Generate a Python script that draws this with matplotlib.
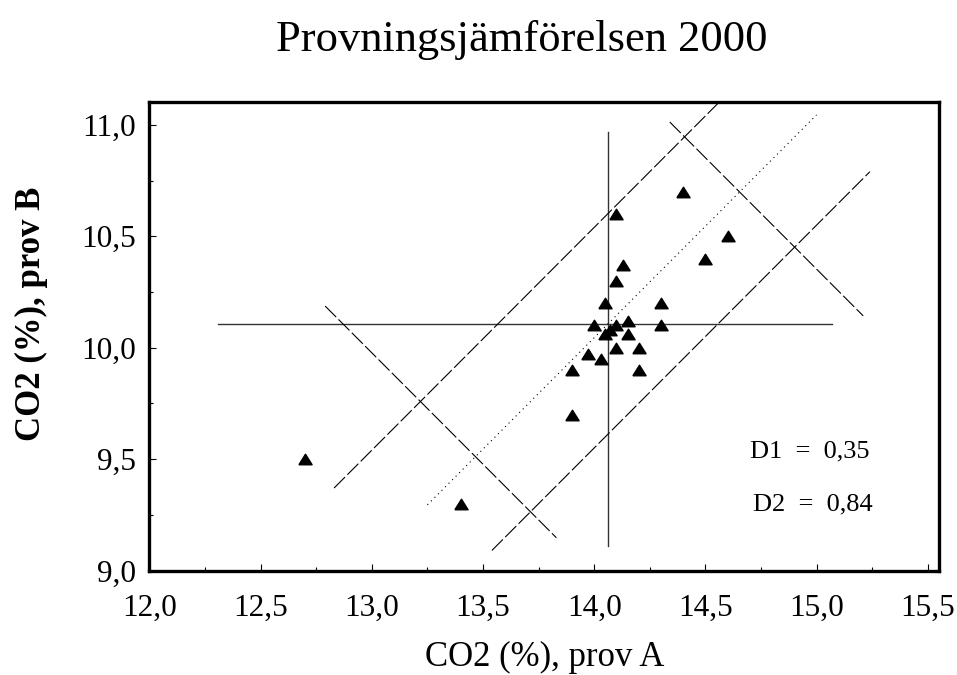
import numpy as np
import matplotlib.pyplot as plt
from matplotlib.ticker import MultipleLocator, FuncFormatter

# --- DATA: CO2 (%) per laboratory, sample A and sample B ---
prov_a = [14.40, 14.10, 14.60, 14.50, 14.13, 14.10, 14.05, 14.30, 14.15, 14.00,
          14.10, 14.30, 14.07, 14.05, 14.15, 14.10, 14.20, 13.97, 14.03, 13.90,
          14.20, 13.90, 13.40, 12.70]
prov_b = [10.70, 10.60, 10.50, 10.40, 10.37, 10.30, 10.20, 10.20, 10.12, 10.10,
          10.10, 10.10, 10.08, 10.06, 10.06, 10.00, 10.00, 9.97, 9.95, 9.90,
          9.90, 9.70, 9.30, 9.50]

# centre of the Youden cross
center_a = 14.06
center_b = 10.105

# distances printed in the plot
D1 = 0.35
D2 = 0.84

# extents of the reference lines (sample A range, or sample B range for the vertical line)
hline_range = [12.31, 15.07]
vline_range = [9.11, 10.97]
diag_range = [13.25, 15.00]
upper_band_range = [12.83, 14.65]
lower_band_range = [13.54, 15.24]
perp_low_range = [12.79, 13.83]
perp_high_range = [14.34, 15.21]

x_ticks = [12.0, 12.5, 13.0, 13.5, 14.0, 14.5, 15.0, 15.5]
y_ticks = [9.0, 9.5, 10.0, 10.5, 11.0]

plt.rcParams['font.family'] = ['Liberation Serif', 'DejaVu Serif']

fig = plt.figure(figsize=(9.57, 6.75), dpi=100)
ax = fig.add_axes([0.1562, 0.1548, 0.8255, 0.6948])

line_kw = dict(color='black', lw=0.8)
dash = (0, (14, 3))

# Youden cross
ax.plot(hline_range, [center_b, center_b], color='#333333', lw=1.0)
ax.plot([center_a, center_a], vline_range, color='#333333', lw=1.0)

# diagonal through the centre and the two parallel lines at distance D1
offset = center_b - center_a
band = D1 * np.sqrt(2)
xd = np.array(diag_range)
ax.plot(xd, xd + offset, linestyle=(0, (1, 3.5)), **line_kw)
xu = np.array(upper_band_range)
ax.plot(xu, xu + offset + band, linestyle=dash, **line_kw)
xl = np.array(lower_band_range)
ax.plot(xl, xl + offset - band, linestyle=dash, **line_kw)

# perpendicular lines at distance D2 along the diagonal
along = D2 * np.sqrt(2)
total = center_a + center_b
xp = np.array(perp_low_range)
ax.plot(xp, total - along - xp, linestyle=dash, **line_kw)
xp = np.array(perp_high_range)
ax.plot(xp, total + along - xp, linestyle=dash, **line_kw)

# data points (flattened triangle)
tri = [(-1, -0.8), (1, -0.8), (0, 0.8), (-1, -0.8)]
ax.plot(prov_a, prov_b, linestyle='none', marker=tri, markersize=9.5,
        color='black', zorder=5)

ax.text(0.836, 0.253, f"D1  =  {D1:.2f}".replace('.', ','), transform=ax.transAxes,
        ha='center', va='center', fontsize=19)
ax.text(0.840, 0.140, f"D2  =  {D2:.2f}".replace('.', ','), transform=ax.transAxes,
        ha='center', va='center', fontsize=19)

ax.set_xlim(12.0, 15.553)
ax.set_ylim(9.0, 11.105)

comma = FuncFormatter(lambda v, pos: f"{v:.1f}".replace('.', ','))
ax.set_xticks(x_ticks)
ax.set_yticks(y_ticks)
ax.xaxis.set_major_formatter(comma)
ax.yaxis.set_major_formatter(comma)
ax.xaxis.set_minor_locator(MultipleLocator(0.25))
ax.yaxis.set_minor_locator(MultipleLocator(0.25))
ax.tick_params(which='major', direction='in', length=5, width=0.8, labelsize=22.5)
ax.tick_params(axis='x', which='major', pad=17)
ax.tick_params(axis='y', which='major', pad=10)
ax.tick_params(which='minor', direction='in', length=3, width=0.8)

for s in ax.spines.values():
    s.set_linewidth(2.4)

fig.text(0.5695, 0.026, "CO2 (%), prov A", fontsize=25, ha='center', va='center')
fig.text(0.033, 0.535, "CO2 (%), prov B", rotation=90, fontsize=25,
         fontweight='bold', ha='center', va='center')
fig.text(0.545, 0.94, "Provningsjämförelsen 2000", fontsize=32,
         ha='center', va='center')

fig.savefig("out.png", dpi=100)
